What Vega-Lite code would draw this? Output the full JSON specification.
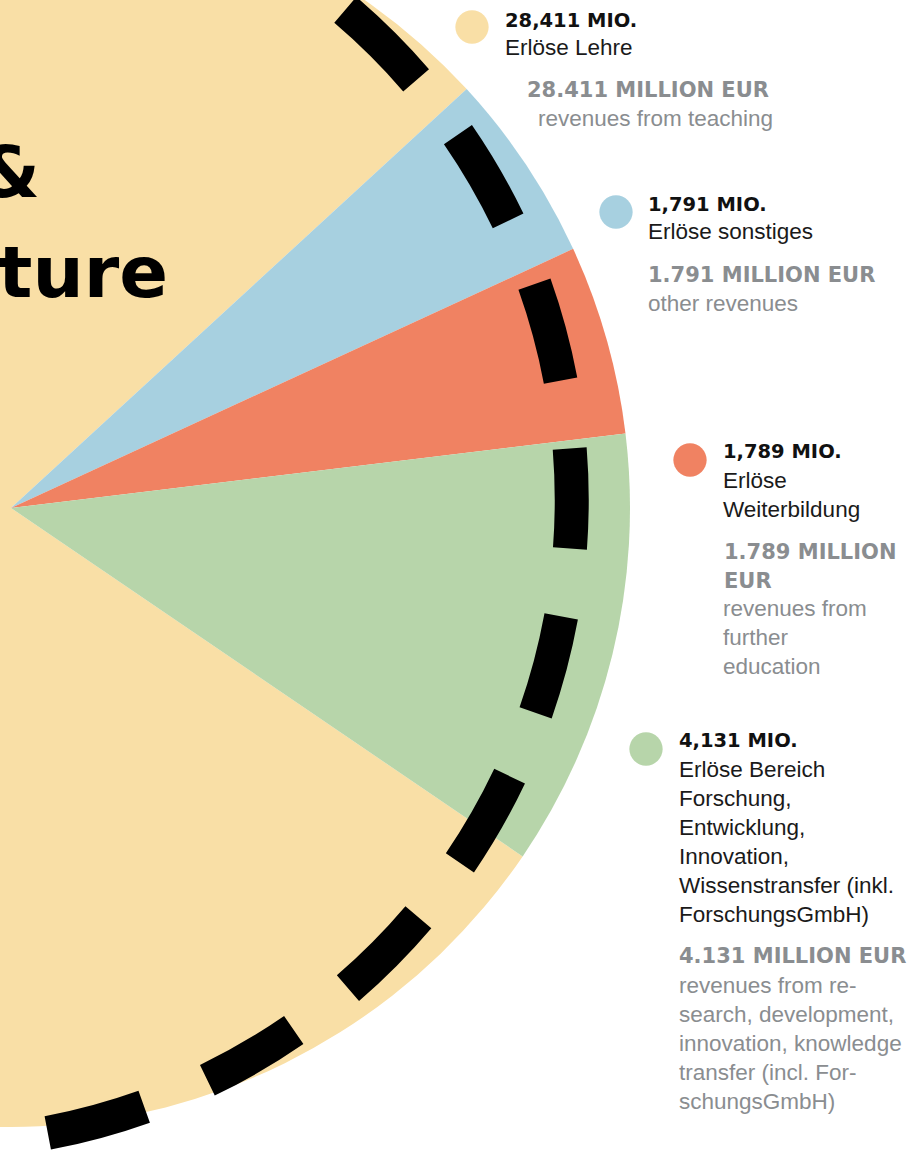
{
  "$schema": "https://vega.github.io/schema/vega-lite/v6.json",
  "width": 913,
  "height": 1154,
  "autosize": {"type": "none"},
  "padding": 0,
  "background": "#ffffff",
  "config": {"view": {"stroke": null}},
  "datasets": {
    "revenues": [
      {"category": "revenues from teaching", "value": 28.411, "valueLabel": "28,411 MIO.", "german": "Erlöse Lehre", "englishValue": "28.411 MILLION EUR", "english": "revenues from teaching"},
      {"category": "other revenues", "value": 1.791, "valueLabel": "1,791 MIO.", "german": "Erlöse sonstiges", "englishValue": "1.791 MILLION EUR", "english": "other revenues"},
      {"category": "revenues from further education", "value": 1.789, "valueLabel": "1,789 MIO.", "german": "Erlöse\nWeiterbildung", "englishValue": "1.789 MILLION\nEUR", "english": "revenues from\nfurther\neducation"},
      {"category": "revenues from research, development, innovation, knowledge transfer (incl. ForschungsGmbH)", "value": 4.131, "valueLabel": "4,131 MIO.", "german": "Erlöse Bereich\nForschung,\nEntwicklung,\nInnovation,\nWissenstransfer (inkl.\nForschungsGmbH)", "englishValue": "4.131 MILLION EUR", "english": "revenues from re-\nsearch, development,\ninnovation, knowledge\ntransfer (incl. For-\nschungsGmbH)"}
    ],
    "title": [
      {"line": "Revenue &"},
      {"line": "Expenditure"}
    ]
  },
  "layer": [
    {
      "data": {"name": "revenues"},
      "mark": {"type": "arc", "outerRadius": 619, "innerRadius": 0, "strokeWidth": 0},
      "encoding": {
        "theta": {"field": "value", "type": "quantitative", "stack": true, "scale": {"range": [0.8273, 7.1105]}},
        "color": {
          "field": "category", "type": "nominal", "legend": null,
          "scale": {
            "domain": ["revenues from teaching", "other revenues", "revenues from further education", "revenues from research, development, innovation, knowledge transfer (incl. ForschungsGmbH)"],
            "range": ["#F9DFA6", "#A7D0E0", "#F08262", "#B7D5AA"]
          }
        },
        "order": {"field": "category", "type": "ordinal", "sort": "ascending"},
        "x": {"value": 11},
        "y": {"value": 508}
      }
    },
    {
      "data": {"values": [{"ring": "dashed"}]},
      "mark": {"type": "arc", "filled": false, "stroke": "#000000", "strokeWidth": 34, "strokeDash": [100, 68.5], "strokeCap": "butt", "theta": 0.1833, "theta2": 6.4665, "outerRadius": 644, "innerRadius": 0},
      "encoding": {"x": {"value": -73}, "y": {"value": 500}}
    },
    {
      "data": {"name": "title"},
      "mark": {"type": "text", "align": "right", "baseline": "alphabetic", "font": "DejaVu Sans", "fontWeight": "bold", "fontSize": 72, "color": "#000000"},
      "encoding": {
        "text": {"field": "line", "type": "nominal"},
        "x": {"field": "line", "type": "nominal", "axis": null, "scale": {"type": "point", "domain": ["Revenue &", "Expenditure"], "range": [40, 168], "padding": 0}},
        "y": {"field": "line", "type": "nominal", "axis": null, "scale": {"type": "point", "domain": ["Revenue &", "Expenditure"], "range": [197, 297], "padding": 0}}
      }
    },
    {
      "data": {"name": "revenues"},
      "mark": {"type": "point", "filled": true, "opacity": 1, "size": 1110, "strokeWidth": 0},
      "encoding": {
        "color": {"field": "category", "type": "nominal", "legend": null},
        "x": {"field": "value", "type": "quantitative", "axis": null, "scale": {"domain": [1.789, 1.791, 4.131, 28.411], "range": [690, 616, 646, 472], "nice": false, "zero": false}},
        "y": {"field": "value", "type": "quantitative", "axis": null, "scale": {"domain": [1.789, 1.791, 4.131, 28.411], "range": [460, 212, 749, 27], "nice": false, "zero": false}}
      }
    },
    {
      "data": {"name": "revenues"},
      "mark": {"type": "text", "align": "left", "baseline": "alphabetic", "font": "DejaVu Sans", "fontWeight": "bold", "fontSize": 19.5, "color": "#111111"},
      "encoding": {
        "text": {"field": "valueLabel", "type": "nominal"},
        "x": {"field": "value", "type": "quantitative", "axis": null, "scale": {"domain": [1.789, 1.791, 4.131, 28.411], "range": [723, 648, 679, 505], "nice": false, "zero": false}},
        "y": {"field": "value", "type": "quantitative", "axis": null, "scale": {"domain": [1.789, 1.791, 4.131, 28.411], "range": [458, 211, 747, 27], "nice": false, "zero": false}}
      }
    },
    {
      "data": {"name": "revenues"},
      "mark": {"type": "text", "align": "left", "baseline": "alphabetic", "font": "Liberation Sans", "fontSize": 22.5, "lineHeight": 29, "lineBreak": "\n", "color": "#1a1a1a"},
      "encoding": {
        "text": {"field": "german", "type": "nominal"},
        "x": {"field": "value", "type": "quantitative", "axis": null, "scale": {"domain": [1.789, 1.791, 4.131, 28.411], "range": [723, 648, 679, 505], "nice": false, "zero": false}},
        "y": {"field": "value", "type": "quantitative", "axis": null, "scale": {"domain": [1.789, 1.791, 4.131, 28.411], "range": [488, 239, 777, 55], "nice": false, "zero": false}}
      }
    },
    {
      "data": {"name": "revenues"},
      "mark": {"type": "text", "align": "left", "baseline": "alphabetic", "font": "DejaVu Sans", "fontWeight": "bold", "fontSize": 21, "lineHeight": 29, "lineBreak": "\n", "color": "#8A8D90"},
      "encoding": {
        "text": {"field": "englishValue", "type": "nominal"},
        "x": {"field": "value", "type": "quantitative", "axis": null, "scale": {"domain": [1.789, 1.791, 4.131, 28.411], "range": [724, 648, 679, 527], "nice": false, "zero": false}},
        "y": {"field": "value", "type": "quantitative", "axis": null, "scale": {"domain": [1.789, 1.791, 4.131, 28.411], "range": [559, 282, 963, 97], "nice": false, "zero": false}}
      }
    },
    {
      "data": {"name": "revenues"},
      "mark": {"type": "text", "align": "left", "baseline": "alphabetic", "font": "Liberation Sans", "fontSize": 22.5, "lineHeight": 29, "lineBreak": "\n", "color": "#8A8D90"},
      "encoding": {
        "text": {"field": "english", "type": "nominal"},
        "x": {"field": "value", "type": "quantitative", "axis": null, "scale": {"domain": [1.789, 1.791, 4.131, 28.411], "range": [723, 648, 679, 538], "nice": false, "zero": false}},
        "y": {"field": "value", "type": "quantitative", "axis": null, "scale": {"domain": [1.789, 1.791, 4.131, 28.411], "range": [616, 311, 993, 126], "nice": false, "zero": false}}
      }
    }
  ],
  "resolve": {"scale": {"x": "independent", "y": "independent"}}
}
